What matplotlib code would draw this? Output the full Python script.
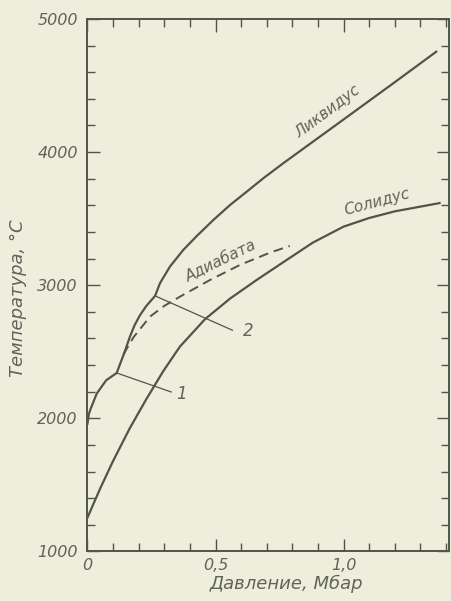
import matplotlib
matplotlib.use("Agg")
import matplotlib.pyplot as plt
from matplotlib.ticker import MultipleLocator, FixedLocator, FixedFormatter

# Melting curves, pressure in Mbar, temperature in deg C
liq_p = [0.0, 0.005, 0.012, 0.036, 0.073, 0.114,
         0.145, 0.165, 0.184, 0.205, 0.23, 0.264,
         0.283, 0.322, 0.374, 0.427, 0.492, 0.557, 0.622, 0.687, 0.765,
         1.0, 1.2, 1.362]
liq_T = [1960, 2030, 2070, 2186, 2286, 2341,
         2498, 2610, 2700, 2775, 2845, 2920,
         3015, 3140, 3265, 3370, 3491, 3603, 3703, 3804, 3917,
         4245, 4525, 4754]

sol_p = [0.0, 0.05, 0.10, 0.165, 0.23, 0.296, 0.361, 0.459, 0.557,
         0.661, 0.778, 0.88, 1.0, 1.1, 1.2, 1.375]
sol_T = [1255, 1475, 1680, 1925, 2145, 2355, 2539, 2745, 2900,
         3040, 3190, 3320, 3440, 3505, 3555, 3617]

adi_p = [0.14, 0.18, 0.244, 0.30, 0.361, 0.479, 0.596, 0.713, 0.79]
adi_T = [2480, 2610, 2764, 2845, 2914, 3040, 3153, 3245, 3295]

# leader lines for triple points 1 and 2
lead1_p = [0.114, 0.327]
lead1_T = [2341, 2198]
lead2_p = [0.264, 0.566]
lead2_T = [2920, 2662]

xticks = [0, 0.5, 1.0]
xtick_labels = ["0", "0,5", "1,0"]
yticks = [1000, 2000, 3000, 4000, 5000]

bg = "#efeedc"
ink = "#4f5649"
txt = "#5f645b"

fig = plt.figure(figsize=(4.51, 6.01), dpi=100, facecolor=bg)
ax = fig.add_axes([0.194, 0.0824, 0.8016, 0.886], facecolor=bg)

ax.plot(liq_p, liq_T, color=ink, lw=1.6, solid_joinstyle="round")
ax.plot(sol_p, sol_T, color=ink, lw=1.6, solid_joinstyle="round")
ax.plot(adi_p, adi_T, color=ink, lw=1.4, dashes=(5, 3))
ax.plot(lead1_p, lead1_T, color=ink, lw=0.9)
ax.plot(lead2_p, lead2_T, color=ink, lw=0.9)

ax.set_xlim(0, 1.412)
ax.set_ylim(1000, 5000)

ax.xaxis.set_major_locator(FixedLocator(xticks))
ax.xaxis.set_major_formatter(FixedFormatter(xtick_labels))
ax.xaxis.set_minor_locator(MultipleLocator(0.1))
ax.yaxis.set_major_locator(FixedLocator(yticks))
ax.yaxis.set_minor_locator(MultipleLocator(200))

ax.tick_params(which="both", direction="in", top=True, right=True,
               color=ink, width=1.0, labelcolor=txt, labelsize=11.5)
ax.tick_params(which="major", length=9)
ax.tick_params(which="minor", length=6)
ax.tick_params(axis="y", which="major", pad=7)
ax.tick_params(axis="x", which="major", pad=5)
for lab in ax.get_xticklabels() + ax.get_yticklabels():
    lab.set_fontstyle("italic")

for s in ax.spines.values():
    s.set_color(ink)
    s.set_linewidth(1.4)

ax.set_xlabel("Давление, Мбар", fontsize=13, style="italic", color=txt)
ax.set_ylabel("Температура, °C", fontsize=13, style="italic", color=txt)
ax.xaxis.set_label_coords(0.549, -0.043)
ax.yaxis.set_label_coords(-0.168, 0.476)

tk = dict(style="italic", color=txt, ha="center", va="center")
ax.text(0.939, 4303, "Ликвидус", fontsize=11, rotation=37, **tk)
ax.text(1.130, 3626, "Солидус", fontsize=11, rotation=15, **tk)
ax.text(0.522, 3183, "Адиабата", fontsize=11, rotation=26, **tk)
ax.text(0.366, 2186, "1", fontsize=12, **tk)
ax.text(0.626, 2654, "2", fontsize=12, **tk)

fig.savefig("out.png", dpi=100, facecolor=bg)
